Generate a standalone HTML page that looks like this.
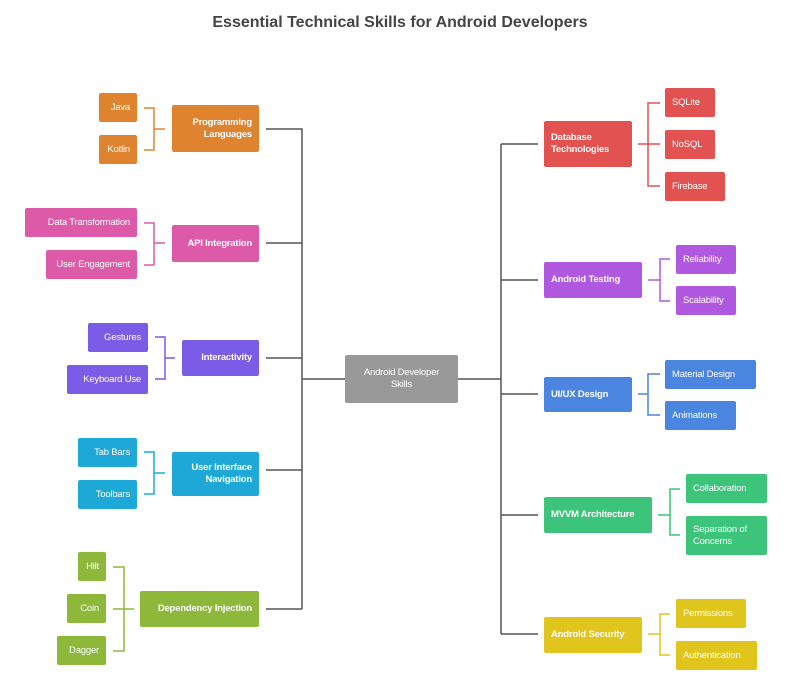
<!DOCTYPE html>
<html><head><meta charset="utf-8"><style>
body{margin:0;width:800px;height:697px;background:#fff;position:relative;overflow:hidden;font-family:"Liberation Sans",sans-serif}
.t{position:absolute;top:14px;left:0;width:800px;text-align:center;font-size:16px;font-weight:bold;color:#444}
.n{position:absolute;display:flex;align-items:center;color:#fff;font-size:9.5px;box-sizing:border-box;padding:0 7px;border-radius:2px;line-height:12px;white-space:nowrap;letter-spacing:-0.2px}
.l{justify-content:flex-end;text-align:right}
.b{font-weight:bold}
svg{position:absolute;left:0;top:0}
</style></head><body>
<div class="t">Essential Technical Skills for Android Developers</div>
<svg width="800" height="697" fill="none" stroke-width="1.5">
<g stroke="#555"><path d="M266 129H302V609M266 243H302M266 358H302M266 470H302M266 609H302M302 379H345M458 379H501M501 144V634M501 144H538M501 280H538M501 394H538M501 515H538M501 634H538"/></g>
<path stroke="#E0832E" d="M144 108H154V150H144M154 129H165"/>
<path stroke="#DD5AA8" d="M144 223H154V265H144M154 243H165"/>
<path stroke="#7B5CE6" d="M155 337H165V379H155M165 358H175"/>
<path stroke="#1EA8D8" d="M144 452H154V494H144M154 473H165"/>
<path stroke="#8DB83A" d="M113 567H124V651H113M113 609H134"/>
<path stroke="#E25250" d="M638 144H660M660 103H648V186H660"/>
<path stroke="#B058E0" d="M648 280H660M670 259H660V301H670"/>
<path stroke="#4A86E0" d="M638 394H648M660 374H648V415H660"/>
<path stroke="#3CC47A" d="M658 515H670M680 489H670V535H680"/>
<path stroke="#E0C51C" d="M648 634H660M670 614H660V655H670"/>
</svg>
<div class="n l" style="left:99px;top:93px;width:38px;height:29px;background:#E0832E">Java</div>
<div class="n l" style="left:99px;top:135px;width:38px;height:29px;background:#E0832E">Kotlin</div>
<div class="n l b" style="left:172px;top:105px;width:87px;height:47px;background:#E0832E">Programming<br>Languages</div>
<div class="n l" style="left:25px;top:208px;width:112px;height:29px;background:#DD5AA8">Data Transformation</div>
<div class="n l" style="left:46px;top:250px;width:91px;height:29px;background:#DD5AA8">User Engagement</div>
<div class="n l b" style="left:172px;top:225px;width:87px;height:37px;background:#DD5AA8">API Integration</div>
<div class="n l" style="left:88px;top:323px;width:60px;height:29px;background:#7B5CE6">Gestures</div>
<div class="n l" style="left:67px;top:365px;width:81px;height:29px;background:#7B5CE6">Keyboard Use</div>
<div class="n l b" style="left:182px;top:340px;width:77px;height:36px;background:#7B5CE6">Interactivity</div>
<div class="n l" style="left:78px;top:438px;width:59px;height:29px;background:#1EA8D8">Tab Bars</div>
<div class="n l" style="left:78px;top:480px;width:59px;height:29px;background:#1EA8D8">Toolbars</div>
<div class="n l b" style="left:172px;top:452px;width:87px;height:44px;background:#1EA8D8">User Interface<br>Navigation</div>
<div class="n l" style="left:78px;top:552px;width:28px;height:29px;background:#8DB83A">Hilt</div>
<div class="n l" style="left:67px;top:594px;width:39px;height:29px;background:#8DB83A">Coin</div>
<div class="n l" style="left:57px;top:636px;width:49px;height:29px;background:#8DB83A">Dagger</div>
<div class="n l b" style="left:140px;top:591px;width:119px;height:36px;background:#8DB83A">Dependency Injection</div>
<div class="n" style="left:345px;top:355px;width:113px;height:48px;background:#999;justify-content:center;text-align:center">Android Developer<br>Skills</div>
<div class="n b" style="left:544px;top:121px;width:88px;height:46px;background:#E25250">Database<br>Technologies</div>
<div class="n" style="left:665px;top:88px;width:50px;height:29px;background:#E25250">SQLite</div>
<div class="n" style="left:665px;top:130px;width:50px;height:29px;background:#E25250">NoSQL</div>
<div class="n" style="left:665px;top:172px;width:60px;height:29px;background:#E25250">Firebase</div>
<div class="n b" style="left:544px;top:262px;width:98px;height:36px;background:#B058E0">Android Testing</div>
<div class="n" style="left:676px;top:245px;width:60px;height:29px;background:#B058E0">Reliability</div>
<div class="n" style="left:676px;top:286px;width:60px;height:29px;background:#B058E0">Scalability</div>
<div class="n b" style="left:544px;top:377px;width:88px;height:35px;background:#4A86E0">UI/UX Design</div>
<div class="n" style="left:665px;top:360px;width:91px;height:29px;background:#4A86E0">Material Design</div>
<div class="n" style="left:665px;top:401px;width:71px;height:29px;background:#4A86E0">Animations</div>
<div class="n b" style="left:544px;top:497px;width:108px;height:36px;background:#3CC47A">MVVM Architecture</div>
<div class="n" style="left:686px;top:474px;width:81px;height:29px;background:#3CC47A">Collaboration</div>
<div class="n" style="left:686px;top:516px;width:81px;height:39px;background:#3CC47A">Separation of<br>Concerns</div>
<div class="n b" style="left:544px;top:617px;width:98px;height:36px;background:#E0C51C">Android Security</div>
<div class="n" style="left:676px;top:599px;width:70px;height:29px;background:#E0C51C">Permissions</div>
<div class="n" style="left:676px;top:641px;width:81px;height:29px;background:#E0C51C">Authentication</div>
</body></html>
